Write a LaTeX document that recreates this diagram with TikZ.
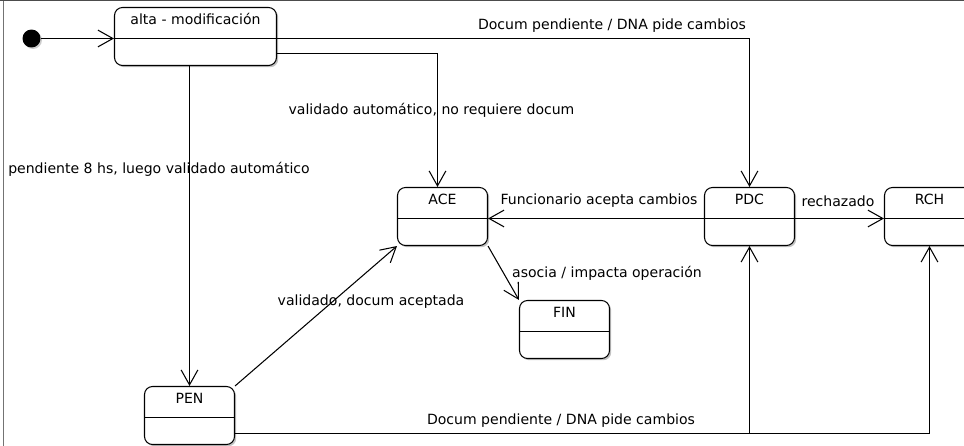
\documentclass[tikz,border=0pt]{standalone}
\usepackage{fontspec}
\setmainfont{DejaVu Sans}
\usetikzlibrary{arrows.meta,shadows}

\tikzset{
    estado/.style={draw, fill=white, line width=0.6pt, rounded corners=0.16cm,
        minimum width=1.8cm, minimum height=1.16cm, inner ysep=0pt,
        text height=0.34cm, text depth=0.82cm,
        drop shadow={shadow xshift=0.035cm, shadow yshift=-0.035cm, fill=black!40, opacity=0.6},
        path picture={\draw[line width=0.6pt] ([yshift=-0.04cm]path picture bounding box.west) -- ([yshift=-0.04cm]path picture bounding box.east);}},
    flecha/.style={-{Straight Barb[length=8.5pt, width=9.5pt]}, line width=0.6pt},
    etiqueta/.style={inner sep=1pt}
}

\begin{document}
\begin{tikzpicture}[x=0.02cm, y=-0.02cm, font=\fontsize{8}{9.6}\selectfont]
        \useasboundingbox (0,0) rectangle (964,446);
        % frame
        \draw[black!55, line width=1.1pt] (3.5,0) -- (3.5,446);
        \draw[black!70, line width=0.6pt] (0,0.5) -- (964,0.5);

        % States
        \node[circle, fill=black, minimum size=0.36cm, inner sep=0pt,
              drop shadow={shadow xshift=0.03cm, shadow yshift=-0.03cm, fill=black!40}] (ini) at (31.5,38.5) {};
        \node[estado, minimum width=3.24cm] (alta) at (195.5,36.5) {alta - modificación};
        \node[estado] (ace) at (442.5,216.5) {ACE};
        \node[estado] (pdc) at (749.5,216.5) {PDC};
        \node[estado] (rch) at (929.5,216.5) {RCH};
        \node[estado] (fin) at (564.5,329.5) {FIN};
        \node[estado] (pen) at (189.5,415.5) {PEN};

        % Transitions
        \draw[flecha] (ini) -- (ini -| alta.west);
        \draw[flecha] (alta.east |- 0,38.5) -| (pdc.north);
        \node[etiqueta] (l1) at (612,26) {Docum pendiente / DNA pide cambios};

        \draw[flecha] (alta.east |- 0,53.5) -| (ace.north -| 437.5,0);
        \node[etiqueta] (l2) at (431.5,110) {validado automático, no requiere docum};

        \draw[flecha] (alta.south -| pen.north) -- (pen.north);
        \node[etiqueta] (l3) at (159,169) {pendiente 8 hs, luego validado automático};

        \draw[flecha] (pdc.west |- 0,218.5) -- (ace.east |- 0,218.5);
        \node[etiqueta] (l4) at (599,201) {Funcionario acepta cambios};

        \draw[flecha] (pdc.east |- 0,218.5) -- (rch.west |- 0,218.5);
        \node[etiqueta] (l5) at (838,201) {rechazado};

        \draw[flecha] (ace.south east) -- (fin.north west);
        \node[etiqueta] (l6) at (607,273) {asocia / impacta operación};

        \draw[flecha] (pen.north east) -- (ace.south west);
        \node[etiqueta] (l7) at (371,302) {validado, docum aceptada};

        \draw[flecha] (pen.east |- 0,433.5) -| (pdc.south);
        \draw[flecha] (pen.east |- 0,433.5) -| (rch.south);
        \node[etiqueta] (l8) at (561,421) {Docum pendiente / DNA pide cambios};
\end{tikzpicture}
\end{document}
